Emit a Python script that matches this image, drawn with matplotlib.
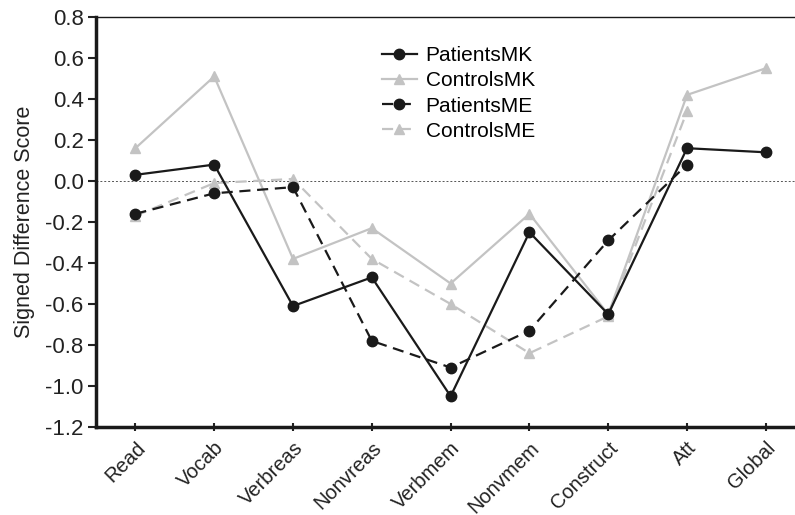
import matplotlib.pyplot as plt

plt.rcParams['font.family'] = ['Liberation Sans', 'DejaVu Sans']

# subtests
tests = ['Read', 'Vocab', 'Verbreas', 'Nonvreas', 'Verbmem', 'Nonvmem',
         'Construct', 'Att', 'Global']

# signed difference scores
patients_mk = [0.03, 0.08, -0.61, -0.47, -1.05, -0.25, -0.65, 0.16, 0.14]
controls_mk = [0.16, 0.51, -0.38, -0.23, -0.50, -0.16, -0.65, 0.42, 0.55]
patients_me = [-0.16, -0.06, -0.03, -0.78, -0.91, -0.73, -0.29, 0.08]
controls_me = [-0.17, -0.01, 0.01, -0.38, -0.60, -0.84, -0.66, 0.34]

dark = '#1a1a1a'
grey = '#c3c3c3'

fig = plt.figure(figsize=(7.95, 5.15), dpi=100)
ax = fig.add_axes([96/795, 1 - 427/515, 699/795, 410/515])

x = list(range(len(tests)))
ax.axhline(0, color='#555555', lw=0.7, ls=(0, (2, 2)), zorder=1)

ax.plot(x, patients_mk, color=dark, lw=1.6, marker='o', ms=7.5,
        label='PatientsMK', zorder=4)
ax.plot(x, controls_mk, color=grey, lw=1.6, marker='^', ms=7,
        label='ControlsMK', zorder=2)
ax.plot(x[:len(patients_me)], patients_me, color=dark, lw=1.6,
        ls=(0, (5, 3)), marker='o', ms=7.5, label='PatientsME', zorder=4)
ax.plot(x[:len(controls_me)], controls_me, color=grey, lw=1.6,
        ls=(0, (5, 3)), marker='^', ms=7, label='ControlsME', zorder=3)

ax.set_xlim(-0.5, 8.37)
ax.set_ylim(-1.2, 0.8)
ax.set_yticks([-1.2, -1.0, -0.8, -0.6, -0.4, -0.2, 0.0, 0.2, 0.4, 0.6, 0.8])
ax.set_yticklabels(['%.1f' % v for v in ax.get_yticks()])
ax.set_xticks(x)
ax.set_xticklabels(tests, rotation=45, ha='right', rotation_mode='anchor')

ax.set_ylabel('Signed Difference Score', fontsize=15.5, color='#222222', labelpad=7)
ax.tick_params(axis='y', direction='out', length=6, width=1.5,
               labelsize=16, colors='#222222', pad=3)
ax.tick_params(axis='x', direction='inout', length=6, width=1.5,
               labelsize=14.5, colors='#222222', pad=5)

ax.spines['left'].set_linewidth(2.5)
ax.spines['bottom'].set_linewidth(2.5)
ax.spines['top'].set_linewidth(1.0)
ax.spines['right'].set_visible(False)
for s in ax.spines.values():
    s.set_color('#1a1a1a')

ax.legend(loc='upper left', bbox_to_anchor=(0.382, 0.975), frameon=False,
          fontsize=15, handlelength=1.7, handletextpad=0.4, labelspacing=0.3,
          borderpad=0.4)

fig.savefig('out.png', dpi=100)
